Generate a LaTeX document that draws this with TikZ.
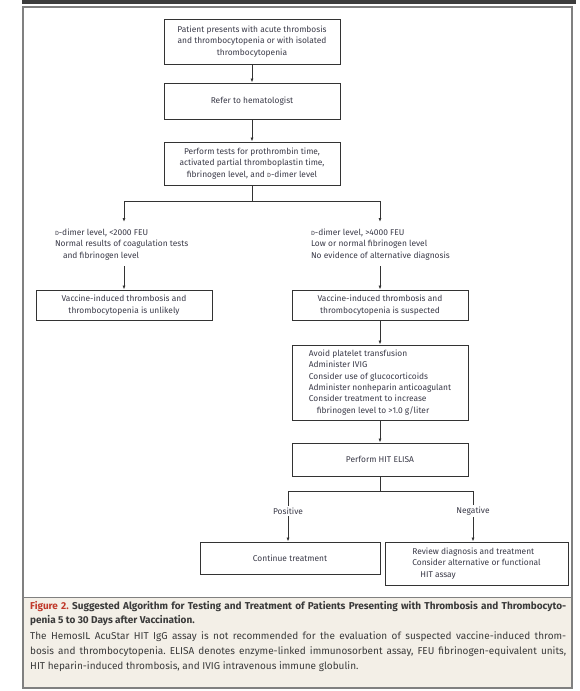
\documentclass[tikz,border=0pt]{standalone}
\usepackage{fontspec}
\setmainfont{Fira Sans}
\usetikzlibrary{arrows.meta}
\definecolor{lncol}{HTML}{333333}
\definecolor{txtcol}{HTML}{3A3A48}
\definecolor{figred}{HTML}{C0392B}
\definecolor{capbg}{HTML}{F3EFE7}
\definecolor{framecol}{HTML}{808080}
\definecolor{barcol}{HTML}{3C3C3C}
\definecolor{capcol}{HTML}{3A3A3A}
\newcommand\dd{{\fontsize{6}{7}\selectfont D}}
\frenchspacing
\begin{document}
\begin{tikzpicture}[x=1pt,y=-1pt,
  box/.style={draw=lncol, line width=0.9pt, text=txtcol, font=\fontsize{8.4}{11.3}\selectfont, align=center, inner sep=0pt},
  plain/.style={text=txtcol, font=\fontsize{8.4}{11.3}\selectfont, align=left, inner sep=0pt, outer sep=2pt},
  arr/.style={draw=lncol, line width=0.8pt, -{Latex[length=4pt,width=3pt]}},
  conn/.style={draw=lncol, line width=0.8pt},
  capline/.style={anchor=west, inner sep=0pt, text=capcol}]
\useasboundingbox (0,0) rectangle (580,691);
\fill[barcol] (22,0) rectangle (576,4);
\fill[capbg] (23,597) rectangle (572,688);
\draw[framecol, line width=0.8pt] (23,597) -- (572,597);
\draw[framecol, line width=1.5pt] (23,7) rectangle (572,688);

\node[box, minimum width=176pt, minimum height=45pt] (b1) at (252,41.5) {Patient presents with acute thrombosis\\and thrombocytopenia or with isolated\\thrombocytopenia};
\node[box, minimum width=176pt, minimum height=36pt] (b2) at (252,101) {Refer to hematologist};
\node[box, minimum width=176pt, minimum height=43pt] (b3) at (252,163.5) {Perform tests for prothrombin time,\\activated partial thromboplastin time,\\fibrinogen level, and \dd-dimer level};
\node[plain, anchor=north west] (lt) at (53,227) {\dd-dimer level, <2000 FEU\\Normal results of coagulation tests\\\hspace*{8pt}and fibrinogen level};
\node[plain, anchor=north west] (rt) at (309,227) {\dd-dimer level, >4000 FEU\\Low or normal fibrinogen level\\No evidence of alternative diagnosis};
\node[box, minimum width=176pt, minimum height=30pt] (lb) at (124,305) {Vaccine-induced thrombosis and\\thrombocytopenia is unlikely};
\node[box, minimum width=176pt, minimum height=30pt] (rb) at (380,305) {Vaccine-induced thrombosis and\\thrombocytopenia is suspected};
\node[box, minimum width=176pt, minimum height=75pt, align=left] (av) at (380,382.5) {Avoid platelet transfusion\\Administer IVIG\\Consider use of glucocorticoids\\Administer nonheparin anticoagulant\\Consider treatment to increase\\\hspace*{8pt}fibrinogen level to >1.0 g/liter};
\node[box, minimum width=176pt, minimum height=33pt] (hit) at (380,459.5) {Perform HIT ELISA};
\node[plain] (pos) at (288,511) {Positive};
\node[plain] (neg) at (473,511) {Negative};
\node[box, minimum width=180pt, minimum height=32pt] (ct) at (290,558) {Continue treatment};
\node[box, minimum width=183pt, minimum height=43pt, align=left] (rv) at (476.5,563.5) {Review diagnosis and treatment\\Consider alternative or functional\\\hspace*{8pt}HIT assay};

\draw[arr] (b1) -- (b2);
\draw[arr] (b2) -- (b3);
\coordinate (j1) at (252,201);
\coordinate (lt0) at (124,222);
\coordinate (rt0) at (380,222);
\coordinate (lt1) at (124,266);
\coordinate (rt1) at (380,266);
\draw[conn] (b3.south) -- (j1);
\draw[arr] (j1) -| (lt0);
\draw[arr] (j1) -| (rt0);
\draw[arr] (lt1) -- (lb.north);
\draw[arr] (rt1) -- (rb.north);
\draw[arr] (rb) -- (av);
\draw[arr] (av) -- (hit);
\coordinate (j2) at (380,491);
\draw[conn] (hit.south) -- (j2);
\draw[conn] (j2) -| (pos.north);
\draw[conn] (j2) -| (neg.north);
\draw[arr] (pos.south) -- (pos.south |- ct.north);
\draw[arr] (neg.south) -- (neg.south |- rv.north);

\node[capline, font=\fontsize{10}{12}\selectfont\bfseries] (c1) at (30,607) {\makebox[536pt][s]{\textcolor{figred}{Figure 2.} Suggested Algorithm for Testing and Treatment of Patients Presenting with Thrombosis and Thrombocyto-}};
\node[capline, font=\fontsize{10}{12}\selectfont\bfseries] (c2) at (30,621) {penia 5 to 30 Days after Vaccination.};
\node[capline, font=\fontsize{10}{12}\selectfont] (c3) at (30,637) {\makebox[536pt][s]{The HemosIL AcuStar HIT IgG assay is not recommended for the evaluation of suspected vaccine-induced throm-}};
\node[capline, font=\fontsize{10}{12}\selectfont] (c4) at (30,652) {\makebox[536pt][s]{bosis and thrombocytopenia. ELISA denotes enzyme-linked immunosorbent assay, FEU fibrinogen-equivalent units,}};
\node[capline, font=\fontsize{10}{12}\selectfont] (c5) at (30,667) {HIT heparin-induced thrombosis, and IVIG intravenous immune globulin.};
\end{tikzpicture}
\end{document}
